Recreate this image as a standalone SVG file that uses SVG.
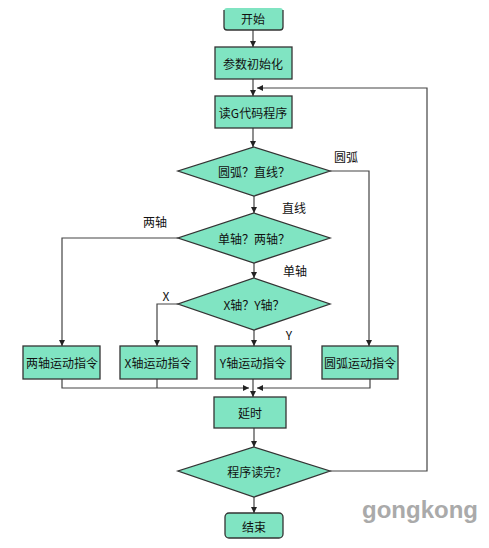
<svg xmlns="http://www.w3.org/2000/svg" width="489" height="548" viewBox="0 0 489 548">
<defs>
<marker id="ah" viewBox="0 0 10 10" refX="10" refY="5" markerWidth="6" markerHeight="7" orient="auto" markerUnits="userSpaceOnUse">
<path d="M0,0 L10,5 L0,10 z" fill="#222"/>
</marker>
</defs>
<style>
.n{fill:#80e4c2;stroke:#333;stroke-width:1.3}
.t{font-family:"Noto Sans CJK SC","Liberation Sans",sans-serif;font-size:12px;fill:#111;text-anchor:middle;dominant-baseline:central}
.l{font-family:"Noto Sans CJK SC","Liberation Sans",sans-serif;font-size:12px;fill:#111;text-anchor:middle;dominant-baseline:central}
.c{fill:none;stroke:#444;stroke-width:1.2}
</style>
<rect width="489" height="548" fill="#fff"/>
<g id="connectors">
<path class="c" d="M253,30 V47" marker-end="url(#ah)"/>
<path class="c" d="M253,79 V96" marker-end="url(#ah)"/>
<path class="c" d="M253,128 V147" marker-end="url(#ah)"/>
<path class="c" d="M254,196 V213" marker-end="url(#ah)"/>
<path class="c" d="M254,263 V278" marker-end="url(#ah)"/>
<path class="c" d="M330,171 H369 V346" marker-end="url(#ah)"/>
<path class="c" d="M178,238 H62 V346" marker-end="url(#ah)"/>
<path class="c" d="M178,304 H157 V346" marker-end="url(#ah)"/>
<path class="c" d="M254,330 V346" marker-end="url(#ah)"/>
<path class="c" d="M62,379 V388 H249" marker-end="url(#ah)"/>
<path class="c" d="M157,379 V388"/>
<path class="c" d="M370,379 V388 H257" marker-end="url(#ah)"/>
<path class="c" d="M253,379 V397" marker-end="url(#ah)"/>
<path class="c" d="M254,428 V447" marker-end="url(#ah)"/>
<path class="c" d="M254,497 V513" marker-end="url(#ah)"/>
<path class="c" d="M330,471 H427 V88 H257" marker-end="url(#ah)"/>
</g>
<g id="start"><rect x="224" y="8" width="59" height="22" rx="3" fill="#80e4c2"/><path class="n" d="M224,10 V27 Q224,30 227,30 H280 Q283,30 283,27 V10"/><text class="t" x="253" y="18">开始</text></g>
<g id="init"><rect class="n" x="215" y="47" width="77" height="32"/><text class="t" x="253" y="63">参数初始化</text></g>
<g id="read"><rect class="n" x="215" y="96" width="77" height="32"/><text class="t" x="253" y="112">读G代码程序</text></g>
<g id="d1"><polygon class="n" points="254,147 330,171 254,196 178,171"/><text class="t" x="254" y="171">圆弧？直线？</text></g>
<g id="d2"><polygon class="n" points="254,213 330,238 254,263 178,238"/><text class="t" x="254" y="238">单轴？两轴？</text></g>
<g id="d3"><polygon class="n" points="254,278 330,304 254,330 178,304"/><text class="t" x="254" y="304">X轴？Y轴？</text></g>
<g id="two"><rect class="n" x="23" y="346" width="77" height="33"/><text class="t" x="62" y="362">两轴运动指令</text></g>
<g id="xax"><rect class="n" x="120" y="346" width="77" height="33"/><text class="t" x="158" y="362">X轴运动指令</text></g>
<g id="yax"><rect class="n" x="215" y="346" width="76" height="33"/><text class="t" x="253" y="362">Y轴运动指令</text></g>
<g id="arc"><rect class="n" x="322" y="346" width="76" height="33"/><text class="t" x="360" y="362">圆弧运动指令</text></g>
<g id="delay"><rect class="n" x="214" y="397" width="72" height="31"/><text class="t" x="250" y="412">延时</text></g>
<g id="d4"><polygon class="n" points="254,447 330,471 254,497 178,471"/><text class="t" x="254" y="471">程序读完?</text></g>
<g id="end"><rect class="n" x="225" y="513" width="58" height="25" rx="4"/><text class="t" x="254" y="526">结束</text></g>
<g id="labels">
<text class="l" x="346" y="156">圆弧</text>
<text class="l" x="294" y="207">直线</text>
<text class="l" x="155" y="221">两轴</text>
<text class="l" x="295" y="270">单轴</text>
<text class="l" x="166" y="295">X</text>
<text class="l" x="289" y="334">Y</text>
</g>
<text x="420" y="518" font-family="Liberation Sans,sans-serif" font-weight="bold" font-size="24" fill="#aaa" text-anchor="middle">gongkong</text>
</svg>
